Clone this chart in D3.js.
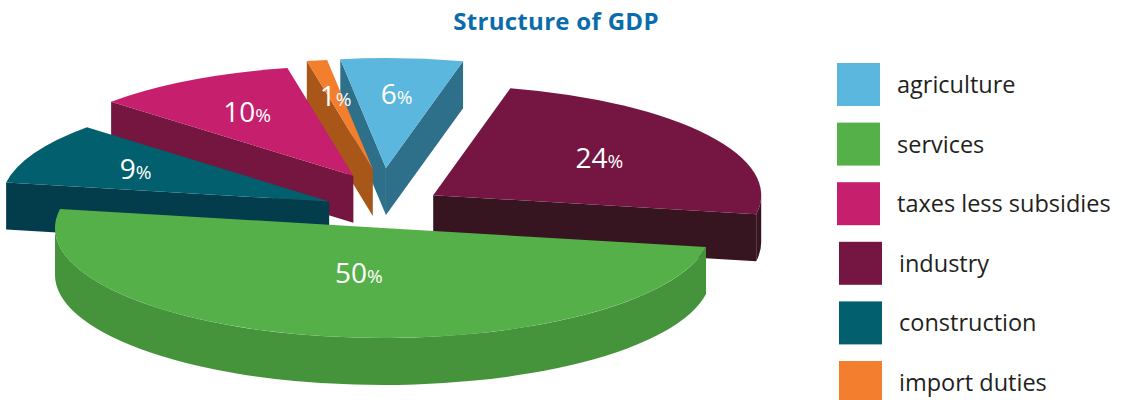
<!DOCTYPE html>
<html>
<head>
<meta charset="utf-8">
<script src="https://cdn.jsdelivr.net/npm/d3@7/dist/d3.min.js"></script>
<style>
  html, body { margin: 0; padding: 0; background: #fff; }
  svg { display: block; }
</style>
</head>
<body>
<svg id="chart" width="1126" height="400"></svg>
<script>
// GDP structure, shares in percent (legend order)
const categories = ["agriculture", "services", "taxes less subsidies", "industry", "construction", "import duties"];
const shares = [6, 50, 10, 24, 9, 1];
// clockwise order of the slices around the pie, starting just left of 12 o'clock
const sliceOrder = ["agriculture", "industry", "services", "construction", "taxes less subsidies", "import duties"];
const topColors = ["#5bb7de", "#56b049", "#c51f6d", "#741641", "#02606e", "#f37e2e"];
const sideColors = ["#2e6f8a", "#45933b", "#74163f", "#361520", "#033d4b", "#a85718"];
const title = "Structure of GDP";

const svg = d3.select("#chart");

// ellipse geometry of the tilted pie
const cx = 383, cy = 228, rx = 328, ry = 110, depth = 47, pull = 60;
const startAngle = -8 * Math.PI / 180;

const rows = categories.map((name, i) => ({
  name, value: shares[i], top: topColors[i], side: sideColors[i]
}));

const pie = d3.pie()
  .value(d => d.value)
  .sort((a, b) => sliceOrder.indexOf(a.name) - sliceOrder.indexOf(b.name))
  .startAngle(startAngle)
  .endAngle(startAngle + 2 * Math.PI);

const arcs = pie(rows);
const maxValue = d3.max(shares);

// offset of every slice: all but the largest are pulled outwards
arcs.forEach(a => {
  const mid = (a.startAngle + a.endAngle) / 2;
  const p = a.data.value === maxValue ? 0 : pull;
  a.ox = p * Math.sin(mid);
  a.oy = -p * Math.cos(mid);
  a.mid = mid;
});

const topArc = d3.arc().innerRadius(0).outerRadius(rx);

function pt(a, t, z) {
  return [cx + a.ox + rx * Math.sin(t), cy + a.oy - ry * Math.cos(t) + (z || 0)];
}

// outer wall between angles t1 < t2 (front part only)
function wallPath(a, t1, t2) {
  const p1 = pt(a, t1), p2 = pt(a, t2), p3 = pt(a, t2, depth), p4 = pt(a, t1, depth);
  const large = (t2 - t1) > Math.PI ? 1 : 0;
  return `M${p1}A${rx},${ry} 0 ${large} 1 ${p2}L${p3}A${rx},${ry} 0 ${large} 0 ${p4}Z`;
}

// radial cut face at angle t
function cutPath(a, t) {
  const c0 = [cx + a.ox, cy + a.oy];
  const c1 = [cx + a.ox, cy + a.oy + depth];
  return `M${c0}L${pt(a, t)}L${pt(a, t, depth)}L${c1}Z`;
}

const gPie = svg.append("g");
const ordered = arcs.slice().sort((p, q) => p.oy - q.oy);

ordered.forEach(a => {
  const g = gPie.append("g");
  // cut faces turned towards the viewer
  if (Math.sin(a.startAngle) < 0) {
    g.append("path").attr("d", cutPath(a, a.startAngle)).attr("fill", a.data.side);
  }
  if (Math.sin(a.endAngle) > 0) {
    g.append("path").attr("d", cutPath(a, a.endAngle)).attr("fill", a.data.side);
  }
  // front part of the outer wall
  [-1, 0, 1].forEach(k => {
    const lo = Math.max(a.startAngle, Math.PI / 2 + 2 * Math.PI * k);
    const hi = Math.min(a.endAngle, 1.5 * Math.PI + 2 * Math.PI * k);
    if (hi > lo) {
      g.append("path").attr("d", wallPath(a, lo, hi)).attr("fill", a.data.side);
    }
  });
  // top face
  g.append("path")
    .attr("transform", `translate(${cx + a.ox},${cy + a.oy}) scale(1,${ry / rx})`)
    .attr("d", topArc(a))
    .attr("fill", a.data.top);
});

// percentage labels at the centroid of each top face
function centroidFactor(a) {
  const h = (a.endAngle - a.startAngle) / 2;
  return (2 / 3) * Math.sin(h) / h;
}
const labels = gPie.selectAll("text.pct")
  .data(arcs)
  .join("text")
  .attr("class", "pct")
  .attr("text-anchor", "middle")
  .attr("fill", "#fff")
  .attr("font-family", "'Open Sans', sans-serif")
  .attr("x", a => cx + a.ox + centroidFactor(a) * rx * Math.sin(a.mid))
  .attr("y", a => cy + a.oy - centroidFactor(a) * ry * Math.cos(a.mid) + 9);
labels.append("tspan").attr("font-size", 28).text(a => a.data.value);
labels.append("tspan").attr("font-size", 19).text("%");

// title
svg.append("text")
  .attr("x", 556).attr("y", 30)
  .attr("text-anchor", "middle")
  .attr("font-family", "'Open Sans', sans-serif")
  .attr("font-weight", 700)
  .attr("font-size", 24)
  .attr("letter-spacing", 0.3)
  .attr("fill", "#0a6cab")
  .text(title);

// legend
const legend = svg.append("g").attr("transform", "translate(837,63)");
const item = legend.selectAll("g")
  .data(rows)
  .join("g")
  .attr("transform", (d, i) => `translate(${i >= 3 ? 2 : 0},${i * 59.6})`);
item.append("rect").attr("width", 43).attr("height", 43).attr("fill", d => d.top);
item.append("text")
  .attr("x", 60).attr("y", 30)
  .attr("font-family", "'Open Sans', sans-serif")
  .attr("font-size", 23.5)
  .attr("fill", "#231f20")
  .text(d => d.name);
</script>
</body>
</html>
